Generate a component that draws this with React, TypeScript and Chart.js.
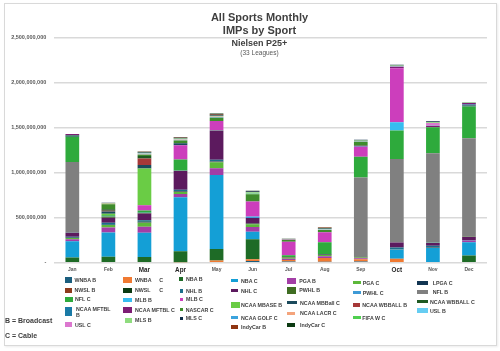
import React, { useEffect, useRef } from "react";
import { Chart, registerables } from "chart.js";

Chart.register(...registerables);

// ---------- DATA (millions of impressions) ----------
const MONTHS = ["Jan", "Feb", "Mar", "Apr", "May", "Jun", "Jul", "Aug", "Sep", "Oct", "Nov", "Dec"];
const Y_TICKS = [0, 500000000, 1000000000, 1500000000, 2000000000, 2500000000];

const WNBA_B = [0, 0, 0, 0, 0, 20, 15, 12, 15, 0, 0, 0];
const WNBA_C = [0, 0, 0, 5, 26, 18, 15, 40, 25, 44, 0, 0];
const NBA_B = [60, 67, 63, 122, 126, 222, 0, 0, 0, 0, 0, 81];
const NBA_C = [180, 270, 270, 600, 821, 85, 0, 0, 0, 104, 163, 148];
const PGA_B = [20, 55, 67, 37, 74, 52, 15, 20, 10, 0, 0, 18];
const PGA_C = [15, 26, 44, 22, 67, 30, 10, 15, 8, 0, 0, 0];
const LPGA_C = [5, 5, 5, 5, 5, 10, 5, 5, 3, 0, 0, 0];
const NWSL_B = [0, 0, 3, 3, 3, 3, 3, 3, 3, 3, 3, 0];
const NWSL_C = [0, 0, 2, 2, 2, 2, 2, 2, 2, 2, 2, 0];
const NHL_B = [8, 22, 18, 15, 18, 0, 0, 0, 0, 18, 22, 5];
const NHL_C = [45, 55, 74, 207, 322, 55, 0, 0, 0, 55, 30, 33];
const PWHL_B = [3, 10, 5, 3, 3, 0, 0, 0, 0, 0, 3, 3];
const PWHL_C = [2, 3, 3, 2, 2, 15, 0, 0, 0, 0, 2, 2];
const NFL_B = [780, 0, 0, 0, 0, 0, 0, 0, 880, 925, 990, 1091];
const NFL_C = [280, 15, 26, 122, 0, 0, 20, 130, 230, 315, 289, 352];
const MLB_B = [0, 0, 0, 0, 0, 0, 0, 0, 0, 92, 0, 0];
const MLB_C = [0, 0, 59, 159, 104, 167, 148, 111, 111, 600, 0, 0];
const NCAA_MBASE_B = [0, 15, 407, 0, 0, 0, 0, 0, 0, 0, 0, 0];
const NCAA_MBBALL_C = [10, 25, 37, 22, 0, 0, 0, 0, 0, 0, 0, 10];
const NCAA_WBBALL_B = [0, 10, 74, 0, 0, 0, 0, 0, 0, 0, 0, 0];
const NCAA_WBBALL_C = [5, 15, 26, 0, 0, 0, 0, 0, 0, 0, 0, 5];
const NCAA_MFTBL_B = [5, 0, 0, 0, 0, 0, 0, 0, 5, 0, 0, 8];
const NCAA_MFTBL_C = [10, 0, 0, 0, 0, 0, 0, 0, 5, 15, 15, 15];
const NASCAR_C = [0, 55, 15, 30, 35, 80, 20, 26, 45, 0, 0, 0];
const NCAA_GOLF_C = [0, 0, 3, 3, 5, 0, 0, 0, 0, 0, 0, 0];
const NCAA_LACR_C = [0, 8, 5, 5, 5, 0, 0, 0, 0, 0, 0, 0];
const FIFA_W_C = [0, 0, 0, 0, 0, 10, 0, 0, 0, 0, 0, 0];
const USL_B = [0, 0, 2, 2, 2, 2, 2, 2, 2, 2, 2, 0];
const USL_C = [0, 0, 3, 3, 3, 3, 3, 3, 3, 3, 30, 0];
const MLS_B = [0, 5, 8, 8, 8, 8, 0, 8, 8, 8, 8, 5];
const MLS_C = [0, 5, 10, 10, 10, 10, 0, 10, 10, 10, 10, 5];
const INDYCAR_B = [0, 0, 3, 5, 10, 5, 5, 5, 0, 0, 0, 0];
const INDYCAR_C = [0, 0, 2, 3, 3, 3, 3, 2, 0, 0, 0, 0];

const SERIES_NAMES = [
  "WNBA B", "WNBA C", "NBA B", "NBA C", "PGA B", "PGA C", "LPGA C",
  "NWSL B", "NWSL C", "NHL B", "NHL C", "PWHL B", "PWHL C", "NFL B",
  "NFL C", "MLB B", "MLB C", "NCAA MBASE B", "NCAA MBBall C", "NCAA WBBALL B", "NCAA WBBALL C",
  "NCAA MFTBL B", "NCAA MFTBL C", "NASCAR C", "NCAA GOLF C", "NCAA LACR C", "FIFA W C", "USL B",
  "USL C", "MLS B", "MLS C", "IndyCar B", "IndyCar C",
];
const SERIES_VALUES = [
  WNBA_B, WNBA_C, NBA_B, NBA_C, PGA_B, PGA_C, LPGA_C,
  NWSL_B, NWSL_C, NHL_B, NHL_C, PWHL_B, PWHL_C, NFL_B,
  NFL_C, MLB_B, MLB_C, NCAA_MBASE_B, NCAA_MBBALL_C, NCAA_WBBALL_B, NCAA_WBBALL_C,
  NCAA_MFTBL_B, NCAA_MFTBL_C, NASCAR_C, NCAA_GOLF_C, NCAA_LACR_C, FIFA_W_C, USL_B,
  USL_C, MLS_B, MLS_C, INDYCAR_B, INDYCAR_C,
];

// ---------- STYLES ----------
const SERIES_COLORS: Record<string, string> = {
  "WNBA B": "#1b5e7e", "WNBA C": "#f07a32", "NBA B": "#1e6b26", "NBA C": "#149fd6",
  "PGA B": "#a33ea6", "PGA C": "#5cb83a", "LPGA C": "#123552", "NWSL B": "#8e3b1c",
  "NWSL C": "#0b3a12", "NHL B": "#1b6f8a", "NHL C": "#5c1a5e", "PWHL B": "#3f6d22",
  "PWHL C": "#3e9ad6", "NFL B": "#808080", "NFL C": "#2eaa3c", "MLB B": "#36bdf0",
  "MLB C": "#cc3ebc", "NCAA MBASE B": "#6acc45", "NCAA MBBall C": "#1b4a5c",
  "NCAA WBBALL B": "#a63838", "NCAA WBBALL C": "#1f5a22", "NCAA MFTBL B": "#1a7aa6",
  "NCAA MFTBL C": "#7d1d74", "NASCAR C": "#3e8c2c", "NCAA GOLF C": "#3ba3dd",
  "NCAA LACR C": "#f4a47c", "FIFA W C": "#4fcf4f", "USL B": "#66cdf2", "USL C": "#dc77cf",
  "MLS B": "#8fdc7e", "MLS C": "#0f2e48", "IndyCar B": "#8f3512", "IndyCar C": "#0c3a12",
};

const FONT = "'Liberation Sans', Arial, sans-serif";
const BIG_MONTHS = ["Mar", "Apr", "Oct"];

type LItem = { n: string; mx: number; my: number; mw: number; mh: number; tx: number; ty: number; t?: string; t2?: string; t2x?: number; t2y?: number };
const LEGEND: LItem[] = [
  { n: "WNBA B", mx: 65, my: 276.7, mw: 7.3, mh: 6.6, tx: 74.5, ty: 280 },
  { n: "NWSL B", mx: 65, my: 287.7, mw: 7.3, mh: 5.6, tx: 74.5, ty: 290.3 },
  { n: "NFL C", mx: 65, my: 296.7, mw: 7.5, mh: 5.6, tx: 75, ty: 299.5 },
  { n: "NCAA MFTBL B", mx: 65, my: 307.3, mw: 7.3, mh: 8.4, tx: 76, ty: 309, t: "NCAA MFTBL", t2: "B", t2x: 76, t2y: 315 },
  { n: "USL C", mx: 65, my: 321.7, mw: 7.3, mh: 5.6, tx: 75, ty: 325 },
  { n: "WNBA C", mx: 123.3, my: 277.3, mw: 8.4, mh: 6, tx: 135, ty: 280, t: "WNBA", t2: "C", t2x: 159.3, t2y: 280 },
  { n: "NWSL C", mx: 123.3, my: 287.7, mw: 8.4, mh: 5.6, tx: 135, ty: 290, t: "NWSL", t2: "C", t2x: 159.3, t2y: 290 },
  { n: "MLB B", mx: 123.3, my: 297.5, mw: 9, mh: 4.2, tx: 135, ty: 300 },
  { n: "NCAA MFTBL C", mx: 123.3, my: 307.3, mw: 8.4, mh: 6, tx: 135, ty: 310.3 },
  { n: "MLS B", mx: 125, my: 317.7, mw: 7.3, mh: 5.6, tx: 135, ty: 320.3 },
  { n: "NBA B", mx: 179.3, my: 277.3, mw: 3.4, mh: 3.4, tx: 186, ty: 279 },
  { n: "NHL B", mx: 180, my: 289.3, mw: 2.8, mh: 3.4, tx: 186, ty: 291 },
  { n: "MLB C", mx: 180, my: 297.7, mw: 3, mh: 3, tx: 186, ty: 299.3 },
  { n: "NASCAR C", mx: 180, my: 308.3, mw: 2.8, mh: 2.8, tx: 185.7, ty: 309.7 },
  { n: "MLS C", mx: 180, my: 317, mw: 2.8, mh: 2.8, tx: 185.7, ty: 318.3 },
  { n: "NBA C", mx: 230.7, my: 279, mw: 7.6, mh: 3.3, tx: 241, ty: 280.7 },
  { n: "NHL C", mx: 230.7, my: 289, mw: 7.6, mh: 3.3, tx: 241, ty: 290.7 },
  { n: "NCAA MBASE B", mx: 231, my: 301.7, mw: 9, mh: 6.6, tx: 241, ty: 305 },
  { n: "NCAA GOLF C", mx: 231, my: 316, mw: 7.3, mh: 3.3, tx: 241, ty: 318 },
  { n: "IndyCar B", mx: 231, my: 325, mw: 7.3, mh: 4, tx: 241, ty: 327 },
  { n: "PGA B", mx: 286.7, my: 278.3, mw: 9.3, mh: 5.7, tx: 299.3, ty: 280.7 },
  { n: "PWHL B", mx: 286.7, my: 286.7, mw: 9.3, mh: 7.6, tx: 299.3, ty: 290.3 },
  { n: "NCAA MBBall C", mx: 286.7, my: 301, mw: 10, mh: 3.3, tx: 300, ty: 302.7 },
  { n: "NCAA LACR C", mx: 286.7, my: 311.7, mw: 8.3, mh: 3.3, tx: 300, ty: 313 },
  { n: "IndyCar C", mx: 286.7, my: 323.3, mw: 8.3, mh: 4, tx: 300, ty: 325 },
  { n: "PGA C", mx: 353.3, my: 281, mw: 7.4, mh: 3.3, tx: 362.7, ty: 282.7 },
  { n: "PWHL C", mx: 353.3, my: 291, mw: 7.4, mh: 3.3, tx: 362.7, ty: 292.7 },
  { n: "NCAA WBBALL B", mx: 353.3, my: 303.3, mw: 6.7, mh: 3.4, tx: 362.3, ty: 305 },
  { n: "FIFA W C", mx: 353.3, my: 316, mw: 7.4, mh: 3.3, tx: 362.3, ty: 318 },
  { n: "LPGA C", mx: 416.7, my: 281, mw: 11.6, mh: 4, tx: 432.7, ty: 282.7 },
  { n: "NFL B", mx: 416.7, my: 290, mw: 11, mh: 4, tx: 432.7, ty: 292 },
  { n: "NCAA WBBALL C", mx: 416.7, my: 300, mw: 11, mh: 3.3, tx: 430, ty: 301.7 },
  { n: "USL B", mx: 416.7, my: 307.7, mw: 11, mh: 5.6, tx: 430, ty: 311 },
];

const CANVAS_W = 500;
const CANVAS_H = 285;
const PLOT_BOTTOM = 262.8;

const LEG_FS = 5.3;

function LegendText({ x, y, text }: { x: number; y: number; text: string }) {
  return (
    <div
      style={{
        position: "absolute",
        left: x,
        top: y - LEG_FS * 0.6,
        fontFamily: FONT,
        fontSize: LEG_FS,
        lineHeight: `${LEG_FS * 1.2}px`,
        fontWeight: "bold",
        color: "#404040",
        whiteSpace: "nowrap",
      }}
    >
      {text}
    </div>
  );
}

function TitleLine({ y, text, size, bold, color }: { y: number; text: string; size: number; bold: boolean; color: string }) {
  return (
    <div
      style={{
        position: "absolute",
        left: 159.5,
        width: 200,
        top: y - size * 0.6,
        textAlign: "center",
        fontFamily: FONT,
        fontSize: size,
        lineHeight: `${size * 1.2}px`,
        fontWeight: bold ? "bold" : "normal",
        color,
        whiteSpace: "nowrap",
      }}
    >
      {text}
    </div>
  );
}

export default function App() {
  const canvasRef = useRef<HTMLCanvasElement | null>(null);

  useEffect(() => {
    if (!canvasRef.current) return;
    const chart = new Chart(canvasRef.current, {
      type: "bar",
      data: {
        labels: MONTHS,
        datasets: SERIES_NAMES.map((name, i) => ({
          label: name,
          data: SERIES_VALUES[i].map((v) => v * 1000000),
          backgroundColor: SERIES_COLORS[name],
          borderWidth: 0,
          barPercentage: 0.38,
          categoryPercentage: 1,
        })),
      },
      options: {
        animation: false,
        responsive: false,
        maintainAspectRatio: false,
        layout: { padding: { top: 37.3, right: 13, bottom: 0, left: 0 } },
        plugins: { legend: { display: false }, tooltip: { enabled: false }, title: { display: false } },
        scales: {
          x: {
            stacked: true,
            grid: { display: false, drawTicks: false },
            border: { display: false },
            ticks: {
              padding: 4,
              autoSkip: false,
              maxRotation: 0,
              color: (ctx: any) => (BIG_MONTHS.includes(MONTHS[ctx.index]) ? "#262626" : "#595959"),
              font: (ctx: any) => ({
                family: FONT,
                size: BIG_MONTHS.includes(MONTHS[ctx.index]) ? 6.3 : 5,
                weight: "bold",
              }),
            },
            afterFit: (s: any) => {
              s.height = CANVAS_H - PLOT_BOTTOM;
            },
          },
          y: {
            stacked: true,
            min: 0,
            max: Y_TICKS[Y_TICKS.length - 1],
            afterBuildTicks: (s: any) => {
              s.ticks = Y_TICKS.map((v) => ({ value: v }));
            },
            ticks: {
              padding: 8,
              color: "#595959",
              font: { family: FONT, size: 5.5, weight: "bold" },
              callback: (v: any) => (Number(v) === 0 ? "-" : Number(v).toLocaleString("en-US")),
            },
            grid: { color: "#d9d9d9", lineWidth: 1.5, drawTicks: false },
            border: { display: false },
            afterFit: (s: any) => {
              s.width = 54.3;
            },
          },
        },
      },
    });
    return () => chart.destroy();
  }, []);

  return (
    <div style={{ position: "fixed", left: 0, top: 0, width: 500, height: 351, background: "#fff", overflow: "hidden" }}>
      <div
        style={{
          position: "absolute",
          left: 4,
          top: 3,
          width: 491,
          height: 341,
          border: "1px solid #d9d9d9",
          boxShadow: "1px 1px 2px rgba(0,0,0,0.08)",
        }}
      />
      <canvas ref={canvasRef} width={CANVAS_W} height={CANVAS_H} style={{ position: "absolute", left: 0, top: 0, width: CANVAS_W, height: CANVAS_H }} />
      <TitleLine y={18} text="All Sports Monthly" size={11} bold color="#404040" />
      <TitleLine y={31} text="IMPs by Sport" size={11} bold color="#404040" />
      <TitleLine y={43} text="Nielsen P25+" size={9} bold color="#404040" />
      <TitleLine y={53} text="(33 Leagues)" size={6.5} bold={false} color="#595959" />
      {LEGEND.map((it) => (
        <React.Fragment key={it.n}>
          <div
            style={{
              position: "absolute",
              left: it.mx,
              top: it.my,
              width: it.mw,
              height: it.mh,
              background: SERIES_COLORS[it.n],
            }}
          />
          <LegendText x={it.tx} y={it.ty} text={it.t ?? it.n} />
          {it.t2 ? <LegendText x={it.t2x as number} y={it.t2y as number} text={it.t2} /> : null}
        </React.Fragment>
      ))}
      <div style={{ position: "absolute", left: 5, top: 315.5, fontFamily: FONT, fontSize: 7, lineHeight: "9px", fontWeight: "bold", color: "#404040", whiteSpace: "nowrap" }}>
        B = Broadcast
      </div>
      <div style={{ position: "absolute", left: 5, top: 330.5, fontFamily: FONT, fontSize: 7, lineHeight: "9px", fontWeight: "bold", color: "#404040", whiteSpace: "nowrap" }}>
        C = Cable
      </div>
    </div>
  );
}
